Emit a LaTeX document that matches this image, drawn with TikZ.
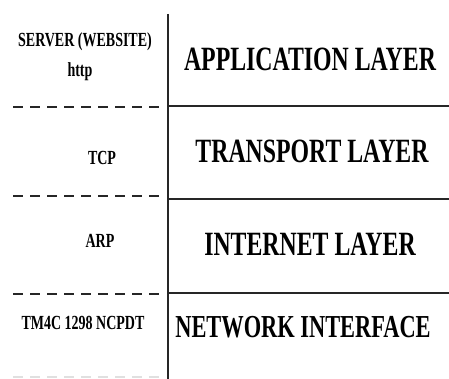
\documentclass[tikz,border=0pt]{standalone}
\usepackage{fontspec}
\setmainfont{Liberation Serif}
\newfontfamily\condfont[FakeStretch=0.7]{Liberation Serif}
\begin{document}
\begin{tikzpicture}[x=1pt,y=-1pt,
  small/.style={inner sep=0pt,anchor=base,font=\condfont\bfseries\fontsize{20}{22}\selectfont},
  big/.style={inner sep=0pt,anchor=base,font=\condfont\bfseries\fontsize{34}{36}\selectfont},
  solidline/.style={line width=1.3pt,black!85},
  dashline/.style={line width=1.3pt,black!85,dash pattern=on 10pt off 7pt}]
\useasboundingbox (0,0) rectangle (449,379);
% grid
\coordinate (vtop) at (168,14);
\coordinate (vbot) at (168,379);
\draw[solidline] (vtop) -- (vbot);
\draw[solidline] (168,106) -- (449,106);
\draw[solidline] (168,199) -- (449,199);
\draw[solidline] (168,293) -- (449,293);
\draw[dashline] (13,107) -- (165,107);
\draw[dashline] (13,196) -- (165,196);
\draw[dashline] (13,294) -- (165,294);
\draw[dashline,black!12] (13,377) -- (165,377);
% left texts
\node[small] (server) at (85,47) {SERVER (WEBSITE)};
\node[small] (http) at (80,77) {http};
\node[small] (tcp) at (102,165) {TCP};
\node[small] (arp) at (100,247) {ARP};
\node[small] (tm4c) at (83,329) {TM4C 1298 NCPDT};
% right texts
\node[big] (app) at (310,71) {APPLICATION LAYER};
\node[big] (trans) at (312,163) {TRANSPORT LAYER};
\node[big] (inet) at (310,255) {INTERNET LAYER};
\node[big,font=\condfont\bfseries\fontsize{32}{34}\selectfont] (net) at (303,337) {NETWORK INTERFACE};
\end{tikzpicture}
\end{document}
